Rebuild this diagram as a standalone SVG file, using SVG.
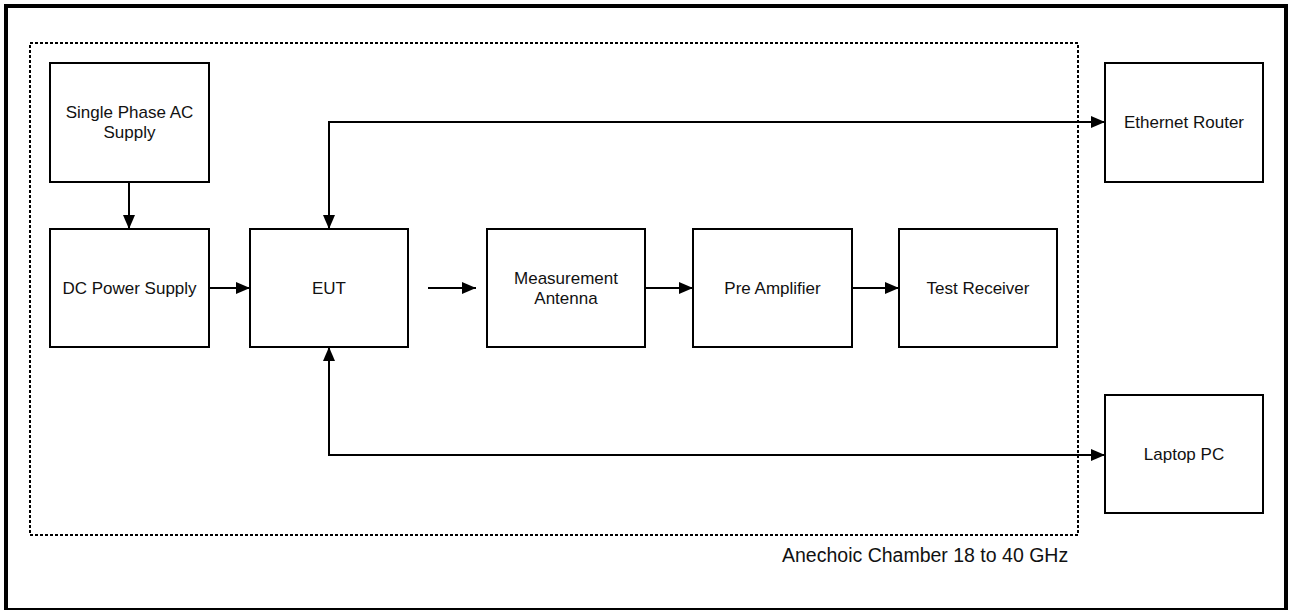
<svg xmlns="http://www.w3.org/2000/svg" width="1290" height="610" viewBox="0 0 1290 610">
<style>
.box{fill:#fff;stroke:#000;stroke-width:2}
.lbl{font-family:"Liberation Sans",Arial,sans-serif;font-size:17px;fill:#111;text-anchor:middle}
.conn{fill:none;stroke:#000;stroke-width:2}
</style>
<defs>
<marker id="ah" viewBox="0 0 14 12" refX="14" refY="6" markerWidth="14" markerHeight="12" markerUnits="userSpaceOnUse" orient="auto-start-reverse">
<path d="M0,0 L14,6 L0,12 z" fill="#000"/>
</marker>
</defs>
<rect x="0" y="0" width="1290" height="610" fill="#fff"/>
<rect id="frame" x="6" y="6" width="1280" height="604" fill="none" stroke="#000" stroke-width="4"/>
<g id="chamber">
<rect x="30" y="43" width="1048" height="492" fill="none" stroke="#000" stroke-width="2" stroke-dasharray="3,2"/>
<text x="782" y="562" font-family="Liberation Sans,Arial,sans-serif" font-size="19.5" fill="#111">Anechoic Chamber 18 to 40 GHz</text>
</g>
<g id="ac">
<rect class="box" x="50" y="63" width="159" height="119"/>
<text class="lbl" x="129.5" y="118">Single Phase AC</text>
<text class="lbl" x="129.5" y="138">Supply</text>
</g>
<g id="dc">
<rect class="box" x="50" y="229" width="159" height="118"/>
<text class="lbl" x="129.5" y="294">DC Power Supply</text>
</g>
<g id="eut">
<rect class="box" x="250" y="229" width="158" height="118"/>
<text class="lbl" x="329" y="294">EUT</text>
</g>
<g id="antenna">
<rect class="box" x="487" y="229" width="158" height="118"/>
<text class="lbl" x="566" y="284">Measurement</text>
<text class="lbl" x="566" y="304">Antenna</text>
</g>
<g id="preamp">
<rect class="box" x="693" y="229" width="159" height="118"/>
<text class="lbl" x="772.5" y="294">Pre Amplifier</text>
</g>
<g id="receiver">
<rect class="box" x="899" y="229" width="158" height="118"/>
<text class="lbl" x="978" y="294">Test Receiver</text>
</g>
<g id="router">
<rect class="box" x="1105" y="63" width="158" height="119"/>
<text class="lbl" x="1184" y="128">Ethernet Router</text>
</g>
<g id="laptop">
<rect class="box" x="1105" y="395" width="158" height="118"/>
<text class="lbl" x="1184" y="460">Laptop PC</text>
</g>
<g id="connectors">
<line class="conn" x1="129" y1="182" x2="129" y2="229" marker-end="url(#ah)"/>
<line class="conn" x1="209" y1="288" x2="250" y2="288" marker-end="url(#ah)"/>
<line class="conn" x1="428" y1="288" x2="476" y2="288" marker-end="url(#ah)"/>
<line class="conn" x1="645" y1="288" x2="693" y2="288" marker-end="url(#ah)"/>
<line class="conn" x1="852" y1="288" x2="899" y2="288" marker-end="url(#ah)"/>
<polyline class="conn" points="329,229 329,122 1105,122" marker-start="url(#ah)" marker-end="url(#ah)"/>
<polyline class="conn" points="329,347 329,455 1105,455" marker-start="url(#ah)" marker-end="url(#ah)"/>
</g>
</svg>
